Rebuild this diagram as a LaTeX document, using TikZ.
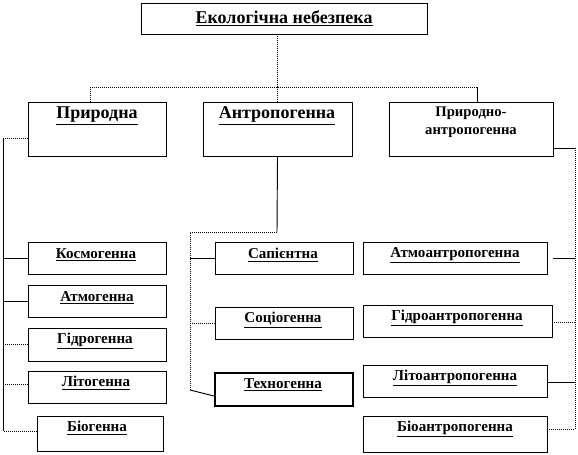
\documentclass[tikz,border=0pt]{standalone}
\usepackage{fontspec}
\setmainfont{Liberation Serif}
\begin{document}
\begin{tikzpicture}[x=0.75pt,y=-0.75pt,
  boxst/.style={draw, rectangle, line width=0.7pt, inner sep=0pt},
  big/.style={font=\fontsize{13.5}{15}\selectfont\bfseries, inner sep=0pt},
  sub/.style={font=\fontsize{11.3}{13}\selectfont\bfseries, inner sep=0pt},
  sol/.style={line width=0.7pt},
  dots/.style={line width=0.7pt, dash pattern=on 0.75pt off 0.75pt}]
\useasboundingbox (0,0) rectangle (578,454);
\newcommand\mkbox[6]{\node[boxst,#6,minimum width={(#4-#2)*0.75pt},minimum height={(#5-#3)*0.75pt}] (#1) at ({(#2+#4)/2},{(#3+#5)/2}) {};}
% boxes
\mkbox{top}{141}{3}{427}{34}{}
\mkbox{pryr}{28}{102}{166}{156}{}
\mkbox{antr}{203}{102}{352}{156}{}
\mkbox{pna}{389}{102}{553}{156}{}
\mkbox{kos}{28}{242}{166}{274}{}
\mkbox{atm}{28}{285}{166}{317}{}
\mkbox{hid}{28}{328}{166}{361}{}
\mkbox{lit}{28}{371}{166}{403}{}
\mkbox{bio}{37}{416}{163}{451}{}
\mkbox{sap}{215}{242}{353}{274}{}
\mkbox{soc}{215}{307}{353}{339}{}
\mkbox{tex}{215}{373}{353}{406}{line width=1.3pt}
\mkbox{atmo}{363}{242}{547}{274}{}
\mkbox{hyda}{363}{305}{552}{337}{}
\mkbox{lita}{363}{365}{547}{397}{}
\mkbox{bioa}{363}{416}{547}{452}{}
% texts
\node[big] (ttop) at (284,18) {\underline{Екологічна небезпека}};
\node[big] (tpryr) at (97,116) {\underline{Природна}};
\node[big] (tantr) at (277,116) {\underline{Антропогенна}};
\node[sub,font=\fontsize{11}{13}\selectfont\bfseries] (tpna1) at (471,113) {Природно-};
\node[sub,font=\fontsize{11}{13}\selectfont\bfseries] (tpna2) at (471,133) {антропогенна};
\node[sub] (tkos) at (96,255) {\underline{Космогенна}};
\node[sub] (tatm) at (97,298) {\underline{Атмогенна}};
\node[sub] (thid) at (95,341) {\underline{Гідрогенна}};
\node[sub] (tlit) at (96,383) {\underline{Літогенна}};
\node[sub] (tbio) at (97,428) {\underline{Біогенна}};
\node[sub] (tsap) at (283,255) {\underline{Сапієнтна}};
\node[sub] (tsoc) at (283,320) {\underline{Соціогенна}};
\node[sub] (ttex) at (283,385) {\underline{Техногенна}};
\node[sub] (tatmo) at (455,255) {\underline{Атмоантропогенна}};
\node[sub] (thyda) at (457,318) {\underline{Гідроантропогенна}};
\node[sub] (tlita) at (455,378) {\underline{Літоантропогенна}};
\node[sub] (tbioa) at (455,429) {\underline{Біоантропогенна}};
% junctions
\coordinate (j1) at (277,87);
\coordinate (jL) at (90,87);
\coordinate (jR) at (477,87);
\coordinate (L0) at (3,138);
\coordinate (L4) at (3,384);
\coordinate (L5) at (3,431);
\coordinate (M0) at (277,232);
\coordinate (M1) at (190,232);
\coordinate (M2) at (190,390);
\coordinate (R0) at (575,148);
\coordinate (R1) at (575,258);
\coordinate (R2) at (575,322);
\coordinate (R3) at (575,382);
\coordinate (R4) at (575,429);
% top level
\draw[dots] (top.south -| j1) -- (j1);
\draw[dots] (jL) -- (jR);
\draw[dots] (jL) -- (jL |- pryr.north);
\draw[dots] (j1) -- (j1 |- antr.north);
\draw[sol] (jR) -- (jR |- pna.north);
% left tree
\draw[dots] (L0 -| pryr.west) -- (L0);
\draw[sol] (L0) -- (L5);
\draw[sol] (kos.west) -- (kos.west -| L0);
\draw[sol] (atm.west) -- (atm.west -| L0);
\draw[dots] (hid.west) -- (hid.west -| L0);
\draw[dots] (L4 -| lit.west) -- (L4);
\draw[dots] (L5 -| bio.west) -- (L5);
% middle tree
\draw[sol] (antr.south) -- (M0);
\draw[dots] (M0) -- (M1) -- (M2);
\draw[sol] (M2) -- ([yshift=-4.9pt]tex.west);
\draw[sol] (sap.west) -- (sap.west -| M1);
\draw[dots] (soc.west) -- (soc.west -| M1);
% right tree
\draw[sol] (R0 -| pna.east) -- (R0);
\draw[dots] (R0) -- (R4);
\draw[sol] ([xshift=4.5pt]R1 -| atmo.east) -- (R1);
\draw[dots] (R2 -| hyda.east) -- (R2);
\draw[sol] (R3 -| lita.east) -- (R3);
\draw[dots] (R4 -| bioa.east) -- (R4);
\end{tikzpicture}
\end{document}
